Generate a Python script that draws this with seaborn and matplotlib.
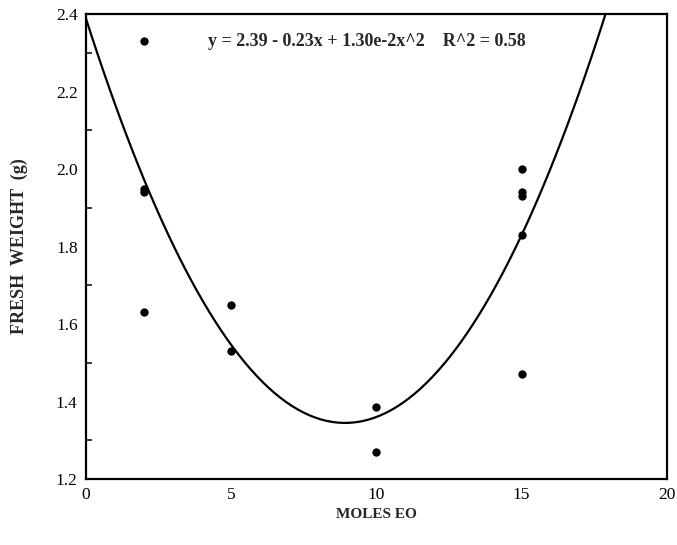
import numpy as np
import pandas as pd
import seaborn as sns
import matplotlib.pyplot as plt
from matplotlib.ticker import MultipleLocator

# data
moles_eo = [2, 2, 2, 2, 5, 5, 10, 10, 15, 15, 15, 15, 15]
fresh_weight = [2.33, 1.95, 1.94, 1.63, 1.65, 1.53, 1.385, 1.27,
                2.00, 1.94, 1.93, 1.83, 1.47]
equation_text = "y = 2.39 - 0.23x + 1.30e-2x^2    R^2 = 0.58"

df = pd.DataFrame({"moles": moles_eo, "weight": fresh_weight})

sns.set_theme(style="white")
plt.rcParams['font.family'] = ['Liberation Serif', 'DejaVu Serif']

fig = plt.figure(figsize=(6.77, 5.45), dpi=100)
ax = fig.add_axes([0.127, 0.121, 0.858, 0.853])
ax.set_xlim(0, 20)
ax.set_ylim(1.2, 2.4)

sns.regplot(data=df, x="moles", y="weight", order=2, ci=None, truncate=False,
            ax=ax, color="black",
            scatter_kws={"s": 36, "alpha": 1, "linewidths": 0},
            line_kws={"linewidth": 1.6})

ax.set_xlim(0, 20)
ax.set_ylim(1.2, 2.4)
ax.xaxis.set_major_locator(MultipleLocator(5))
ax.yaxis.set_major_locator(MultipleLocator(0.2))
ax.yaxis.set_minor_locator(MultipleLocator(0.1))
ax.yaxis.set_major_formatter(plt.FuncFormatter(lambda v, p: f"{v:.1f}"))

ax.tick_params(axis="both", which="major", direction="in", length=6, width=1.3,
               labelsize=12.5, pad=6, colors="black")
ax.tick_params(axis="y", which="minor", direction="in", length=4, width=1.3, left=True)
ax.tick_params(top=False, right=False)

for sp in ax.spines.values():
    sp.set_linewidth(1.6)
    sp.set_color("black")

ax.set_xlabel("MOLES EO", fontsize=11, fontweight="bold", labelpad=3)
ax.set_ylabel("FRESH  WEIGHT  (g)", fontsize=13, fontweight="bold", labelpad=20)

ax.text(0.483, 0.942, equation_text, transform=ax.transAxes, ha="center", va="center",
        fontsize=13, fontweight="bold")

fig.savefig("out.png", dpi=100)
